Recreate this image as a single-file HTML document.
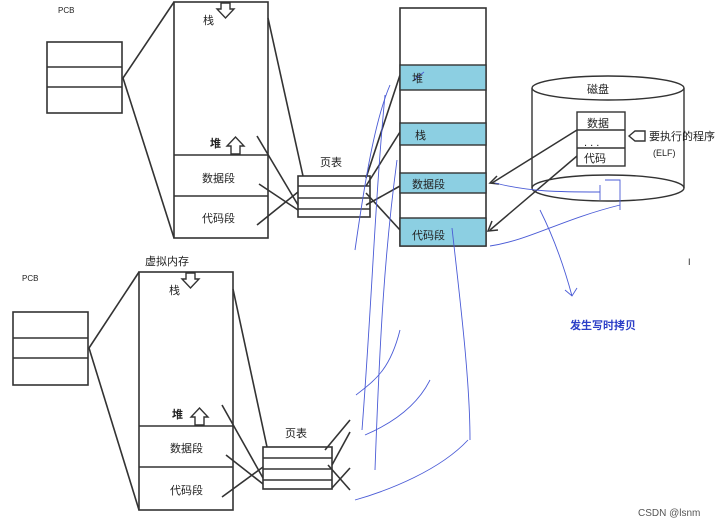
<!DOCTYPE html>
<html><head><meta charset="utf-8"><style>
html,body{margin:0;padding:0;background:#fff;}
svg{display:block;}
</style></head><body>
<svg width="723" height="525" viewBox="0 0 723 525" xmlns="http://www.w3.org/2000/svg" font-family="Liberation Sans, Noto Sans CJK SC, sans-serif">
<g stroke="#333" stroke-width="1.6" fill="none">
<rect x="47" y="42" width="75" height="71"/>
<line x1="47" y1="67" x2="122" y2="67"/><line x1="47" y1="87" x2="122" y2="87"/>
<line x1="123" y1="78" x2="174" y2="2"/><line x1="123" y1="78" x2="174" y2="238"/>
<rect x="174" y="2" width="94" height="236"/>
<line x1="174" y1="155" x2="268" y2="155"/><line x1="174" y1="196" x2="268" y2="196"/>
<rect x="298" y="176" width="72" height="41"/>
<line x1="298" y1="186" x2="370" y2="186"/><line x1="298" y1="198" x2="370" y2="198"/><line x1="298" y1="209" x2="370" y2="209"/>
<line x1="268" y1="18" x2="303" y2="176"/>
<line x1="257" y1="136" x2="298" y2="205"/>
<line x1="259" y1="184" x2="298" y2="210"/>
<line x1="257" y1="225" x2="298" y2="192"/>
<line x1="366" y1="178" x2="400" y2="75"/>
<line x1="366" y1="186" x2="400" y2="132"/>
<line x1="366" y1="205" x2="400" y2="186"/>
<line x1="366" y1="193" x2="400" y2="230"/>
<rect x="400" y="8" width="86" height="238"/>
</g>
<g fill="#8ccfe2" stroke="#333" stroke-width="1.4">
<rect x="400" y="65" width="86" height="25"/>
<rect x="400" y="123" width="86" height="22"/>
<rect x="400" y="173" width="86" height="20"/>
<rect x="400" y="218" width="86" height="28"/>
</g>
<g stroke="#333" stroke-width="1.4" fill="#fff">
<path d="M532 88 L532 188 A76 13 0 0 0 684 188 L684 88"/>
<ellipse cx="608" cy="88" rx="76" ry="12"/>
<path d="M532 188 A76 13 0 0 1 684 188" fill="none"/>
<rect x="577" y="112" width="48" height="54"/>
<line x1="577" y1="130" x2="625" y2="130"/><line x1="577" y1="148" x2="625" y2="148"/>
<path d="M629 136 l6 -5 h10 v10 h-10 z" fill="#fff"/>
</g>
<g stroke="#333" stroke-width="1.5" fill="none">
<line x1="577" y1="130" x2="492" y2="183"/>
<path d="M497 176 L490 183 L499 184"/>
<line x1="577" y1="156" x2="490" y2="230"/>
<path d="M492 221 L488 231 L498 230"/>
</g>
<g stroke="#333" stroke-width="1.6" fill="none">
<rect x="13" y="312" width="75" height="73"/>
<line x1="13" y1="338" x2="88" y2="338"/><line x1="13" y1="358" x2="88" y2="358"/>
<line x1="89" y1="348" x2="139" y2="272"/><line x1="89" y1="348" x2="139" y2="510"/>
<rect x="139" y="272" width="94" height="238"/>
<line x1="139" y1="426" x2="233" y2="426"/><line x1="139" y1="467" x2="233" y2="467"/>
<rect x="263" y="447" width="69" height="42"/>
<line x1="263" y1="458" x2="332" y2="458"/><line x1="263" y1="469" x2="332" y2="469"/><line x1="263" y1="480" x2="332" y2="480"/>
<line x1="233" y1="289" x2="267" y2="447"/>
<line x1="222" y1="405" x2="263" y2="478"/>
<line x1="226" y1="455" x2="263" y2="484"/>
<line x1="222" y1="497" x2="263" y2="467"/>
<line x1="325" y1="450" x2="350" y2="420"/>
<line x1="332" y1="465" x2="350" y2="432"/>
<line x1="328" y1="465" x2="350" y2="490"/>
<line x1="332" y1="488" x2="350" y2="468"/>
</g>
<g stroke="#333" stroke-width="1.4" fill="#fff">
<path d="M221 3 h9 v6 h4 l-8.5 9 l-8.5 -9 h4 z"/>
<path d="M240 154 v-8 h4 l-8.5 -9 l-8.5 9 h4 v8 z"/>
<path d="M186 273 h9 v6 h4 l-8.5 9 l-8.5 -9 h4 z"/>
<path d="M204 425 v-8 h4 l-8.5 -9 l-8.5 9 h4 v8 z"/>
</g>
<g stroke="#4a5bd6" stroke-width="0.9" fill="none">
<path d="M355 250 C365 180 375 120 390 85"/>
<path d="M385 95 C375 200 372 300 362 430"/>
<path d="M397 160 C385 250 380 330 375 470"/>
<path d="M452 228 C460 300 470 380 470 440 M468 440 C440 470 390 490 355 500"/>
<path d="M495 183 C530 192 560 192 600 192 M600 185 v15"/>
<path d="M490 246 C530 240 560 220 620 205 M605 180 h15 v30"/>
<path d="M540 210 C555 240 565 270 572 296 M565 290 l7 6 l5 -8"/>
<path d="M414 80 l10 -8"/>
<path d="M356 395 C375 380 390 370 400 330"/>
<path d="M365 435 C400 420 420 400 430 380"/>
</g>
<g fill="#222" font-size="11">
<text x="58" y="13" font-size="8">PCB</text>
<text x="22" y="281" font-size="8">PCB</text>
<text x="203" y="24">栈</text>
<text x="210" y="147" font-weight="bold">堆</text>
<text x="202" y="182">数据段</text>
<text x="202" y="222">代码段</text>
<text x="320" y="166">页表</text>
<text x="145" y="265">虚拟内存</text>
<text x="169" y="294">栈</text>
<text x="172" y="418" font-weight="bold">堆</text>
<text x="170" y="452">数据段</text>
<text x="170" y="494">代码段</text>
<text x="285" y="437">页表</text>
<text x="412" y="82">堆</text>
<text x="415" y="139">栈</text>
<text x="412" y="188">数据段</text>
<text x="412" y="239">代码段</text>
<text x="587" y="93">磁盘</text>
<text x="587" y="127">数据</text>
<text x="584" y="146">. . .</text>
<text x="584" y="162">代码</text>
<text x="649" y="140">要执行的程序</text>
<text x="653" y="156" font-size="9">(ELF)</text>
<text x="688" y="265" font-size="9">I</text>
<text x="570" y="329" fill="#2c3fc7" font-weight="bold">发生写时拷贝</text>
<text x="638" y="516" fill="#555" font-size="10">CSDN @lsnm</text>
</g>
</svg>
</body></html>
